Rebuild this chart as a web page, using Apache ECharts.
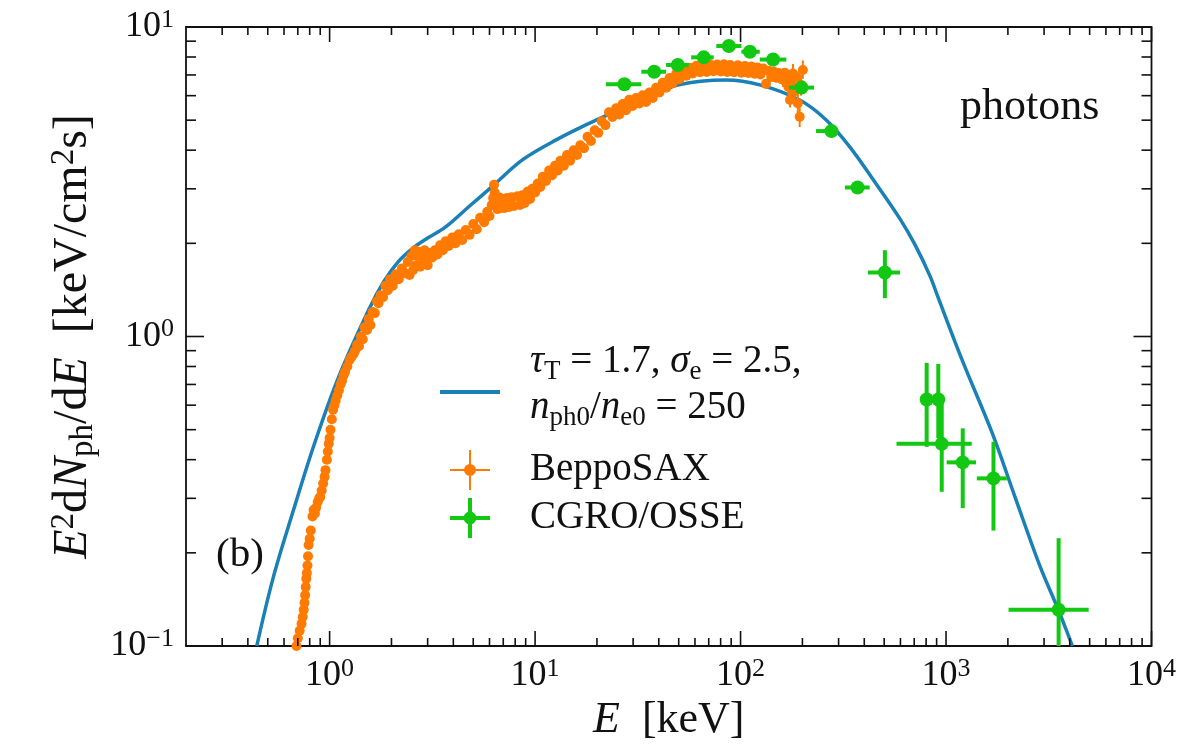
<!DOCTYPE html>
<html>
<head>
<meta charset="utf-8">
<script src="https://cdn.jsdelivr.net/npm/echarts@6/dist/echarts.min.js"></script>
<style>
  html, body { margin: 0; padding: 0; background: #ffffff; }
  #chart { width: 1179px; height: 750px; }
</style>
</head>
<body>
<div id="chart"></div>
<script>
// Spectral energy distribution E^2 dN/dE of the photons, log-log.

// Model curve (tau_T = 1.7, sigma_e = 2.5, n_ph0/n_e0 = 250)
const modelE = [0.442, 0.533, 0.667, 0.845, 1.107, 1.55, 1.83, 2.15, 2.52, 3.0, 3.67, 4.77, 6.17,
  8.67, 12.6, 19.8, 33.4, 50, 85, 124, 194, 262, 340, 459, 597, 706, 835, 914, 1197, 1677, 2148,
  2875, 3518, 4120];
const modelF = [0.10, 0.1675, 0.275, 0.452, 0.741, 1.22, 1.50, 1.74, 1.92, 2.08, 2.26, 2.63, 3.05,
  3.72, 4.31, 5.0, 5.81, 6.5, 6.74, 6.5, 5.81, 5.0, 4.1, 3.1, 2.4, 1.98, 1.57, 1.34, 0.84, 0.488,
  0.308, 0.18, 0.131, 0.1];

// BeppoSAX spectrum (keV, keV/cm^2 s)
const saxE = [0.69, 0.70, 0.715, 0.73, 0.74, 0.748, 0.755, 0.76, 0.765, 0.77, 0.775, 0.78, 0.785,
  0.79, 0.80, 0.81, 0.825, 0.836, 0.848, 0.86, 0.875, 0.89, 0.90, 0.915, 0.93, 0.945, 0.955, 0.97,
  0.98, 0.99, 1.0, 1.01, 1.025, 1.04, 1.055, 1.07, 1.09, 1.11, 1.13, 1.15, 1.17, 1.19, 1.22, 1.25,
  1.28, 1.31,
  1.33, 1.36, 1.39, 1.42, 1.45, 1.48, 1.52, 1.55, 1.58, 1.62, 1.66, 1.70, 1.73, 1.77, 1.82, 1.87,
  1.92, 1.97, 2.03, 2.1, 2.17, 2.25, 2.33, 2.4, 2.45, 2.5, 2.55, 2.6, 2.64, 2.68, 2.72, 2.76, 2.8,
  2.85, 2.9, 2.95, 3.0, 3.08, 3.16, 3.25, 3.35, 3.45, 3.56, 3.67, 3.8, 3.95, 4.1, 4.25, 4.42, 4.6,
  4.8, 5.0, 5.2, 5.4, 5.65, 5.85, 6.0, 6.15, 6.25, 6.31, 6.36, 6.45, 6.55, 6.67, 6.8, 6.95, 7.1,
  7.3, 7.47, 7.7, 7.9, 8.2, 8.45, 8.67, 8.9, 9.2, 9.45, 9.7, 10.0, 10.3, 10.6, 10.9, 11.3, 11.7,
  12.1, 12.5, 12.9, 13.3, 13.8, 14.3, 14.8, 15.4, 16.0, 16.6, 17.3, 18.0, 18.7, 19.5, 20.3, 21.1,
  22.0, 22.9, 23.8, 24.8, 25.7, 26.7, 27.7, 28.7, 29.8, 31.0, 32.2, 33.4, 34.7, 36.0, 37.4, 38.8,
  40.3, 41.8, 43.5, 45.1, 46.8, 48.6, 50.5, 52.5, 54.5, 56.5, 58.5, 61, 63.5, 66, 68.5, 71, 74,
  77, 80, 83, 86, 89, 93, 97, 101, 105, 109, 113, 117, 121, 125, 129, 133, 137, 141, 145, 149,
  153, 157, 161, 164, 167, 171, 174, 177, 180, 184, 187, 190, 194, 197, 201];
const saxF = [0.100, 0.106, 0.112, 0.118, 0.124, 0.131, 0.138, 0.146, 0.155, 0.165, 0.172, 0.182,
  0.195, 0.212, 0.222, 0.236, 0.262, 0.275, 0.268, 0.280, 0.292, 0.300, 0.303, 0.318, 0.335, 0.352,
  0.370, 0.40, 0.425, 0.45, 0.47, 0.50, 0.54, 0.58, 0.60, 0.62, 0.645, 0.67, 0.70, 0.72, 0.75,
  0.77, 0.80, 0.84, 0.86, 0.88,
  0.90, 0.94, 0.93, 1.00, 0.98, 1.07, 1.05, 1.14, 1.09, 1.20, 1.19, 1.30, 1.28, 1.36, 1.34, 1.46,
  1.41, 1.53, 1.46, 1.59, 1.53, 1.66, 1.60, 1.74, 1.58, 1.82, 1.64, 1.90, 1.70, 1.82, 1.88, 1.68,
  1.84, 1.72, 1.90, 1.76, 1.70, 1.86, 1.80, 1.90, 1.84, 1.97, 1.90, 2.03, 1.96, 2.09, 2.00, 2.14,
  2.05, 2.21, 2.13, 2.31, 2.22, 2.42, 2.34, 2.53, 2.45, 2.66, 2.80, 3.09, 2.92, 2.76, 2.58, 2.82,
  2.60, 2.78, 2.60, 2.80, 2.62, 2.82, 2.64, 2.84, 2.66, 2.86, 2.70, 2.94, 2.78, 3.00, 2.92, 3.12,
  3.04, 3.28, 3.18, 3.44, 3.32, 3.56, 3.44, 3.70, 3.56, 3.86, 3.70, 4.00, 3.86, 4.15, 4.06, 4.42,
  4.28, 4.64, 4.55, 4.96, 4.82, 5.30, 5.12, 5.46, 5.22, 5.64, 5.38, 5.82, 5.56, 5.90, 5.66, 6.02,
  5.72, 6.14, 5.90, 6.36, 6.14, 6.60, 6.36, 6.84, 6.58, 7.06, 6.78, 7.24, 6.96, 7.38, 7.08, 7.50,
  7.14, 7.56, 7.16, 7.58, 7.20, 7.56, 7.18, 7.58, 7.16, 7.54, 7.14, 7.52, 7.12, 7.48, 7.10, 7.46,
  7.06, 7.40, 7.02, 7.34, 6.55, 7.22, 6.90, 7.18, 6.86, 7.10, 6.80, 6.74, 7.12, 6.85, 6.4, 5.81,
  6.6, 7.08, 6.2, 6.9, 5.67, 5.13, 6.5, 7.26];

// BeppoSAX points whose error bars stand out above 150 keV
const saxBarE  = [161, 171, 174, 180, 184, 190, 194, 197, 201];
const saxBarLo = [6.4, 6.0, 5.5, 6.7, 5.8, 5.2, 4.75, 6.0, 6.8];
const saxBarHi = [7.1, 6.8, 6.9, 7.6, 6.6, 6.3, 5.6, 7.0, 7.8];

// CGRO/OSSE spectrum with energy bins and flux errors
const osseE   = [27.2, 38.0, 49.5, 66.2, 87.7, 111, 144, 198, 277, 371, 504, 805, 917, 953, 1206, 1702, 3532];
const osseF   = [6.53, 7.17, 7.54, 7.98, 8.68, 8.32, 7.85, 6.37, 4.61, 3.03, 1.61, 0.626, 0.626, 0.45, 0.392, 0.348, 0.131];
const osseElo = [22.1, 32.9, 43.4, 57.5, 76.2, 101, 124, 172, 233, 322, 417, 770, 885, 574, 1007, 1412, 2015];
const osseEhi = [32.9, 43.4, 56.0, 74.0, 101, 124, 167, 228, 298, 425, 597, 840, 950, 1334, 1400, 1977, 4947];
const osseFlo = [6.30, 6.95, 7.30, 7.70, 8.40, 8.05, 7.60, 6.10, 4.45, 2.90, 1.33, 0.44, 0.47, 0.315, 0.279, 0.236, 0.1];
const osseFhi = [6.78, 7.40, 7.80, 8.25, 8.95, 8.60, 8.10, 6.65, 4.78, 3.17, 1.90, 0.822, 0.815, 0.624, 0.505, 0.457, 0.223];

// Axis ranges and tick positions
const X_MIN = 0.2, X_MAX = 10000, Y_MIN = 0.1, Y_MAX = 10;
const xDecades = [0.1, 1, 10, 100, 1000];
const yDecades = [0.1, 1];
const minorSteps = [2, 3, 4, 5, 6, 7, 8, 9];

const FONT = '"Liberation Serif", "Times New Roman", serif';
const INK = '#111111';
const BLUE = '#1a80b6';
const ORANGE = '#ff7a00';
const GREEN = '#12c812';

function ticksFor(decades, lo, hi) {
  const out = [];
  decades.forEach(d => {
    if (d > lo && d < hi) out.push({ v: d, major: 1 });
    minorSteps.forEach(m => {
      const v = m * d;
      if (v > lo * 1.0001 && v < hi * 0.9999) out.push({ v: v, major: 0 });
    });
  });
  return out;
}
const xTicks = ticksFor(xDecades, X_MIN, X_MAX).concat([{ v: 10000, major: 1 }]);
const yTicks = ticksFor(yDecades, Y_MIN, Y_MAX);

function powLabel(value) {
  const e = Math.log10(value);
  const r = Math.round(e);
  if (Math.abs(e - r) > 1e-6) return '';
  const exp = r < 0 ? '\u2212' + (-r) : String(r);
  return '{b|10}{s|' + exp + '}';
}

const labelRich = {
  b: { fontFamily: FONT, fontSize: 36, lineHeight: 40, color: INK },
  s: { fontFamily: FONT, fontSize: 26, lineHeight: 18, verticalAlign: 'top', color: INK }
};

function tickRenderer(dir) {
  return function (params, api) {
    const cs = params.coordSys;
    const isMajor = api.value(2) === 1;
    const st = { stroke: INK, lineWidth: 1.6 };
    if (dir === 'x') {
      const len = isMajor ? 15 : 8;
      const px = api.coord([api.value(0), 1])[0];
      const b = cs.y + cs.height, t = cs.y;
      return { type: 'group', children: [
        { type: 'line', shape: { x1: px, y1: b, x2: px, y2: b - len }, style: st },
        { type: 'line', shape: { x1: px, y1: t, x2: px, y2: t + len }, style: st }
      ] };
    }
    const len = isMajor ? 18 : 10;
    const py = api.coord([1, api.value(1)])[1];
    const l = cs.x, r = cs.x + cs.width;
    return { type: 'group', children: [
      { type: 'line', shape: { x1: l, y1: py, x2: l + len, y2: py }, style: st },
      { type: 'line', shape: { x1: r, y1: py, x2: r - len, y2: py }, style: st }
    ] };
  };
}

function osseRender(params, api) {
  const e = api.value(0), f = api.value(1);
  const c = api.coord([e, f]);
  const xl = api.coord([api.value(2), f]);
  const xh = api.coord([api.value(3), f]);
  const yl = api.coord([e, api.value(4)]);
  const yh = api.coord([e, api.value(5)]);
  const color = api.visual('color');
  return { type: 'group', children: [
    { type: 'line', shape: { x1: xl[0], y1: c[1], x2: xh[0], y2: c[1] }, style: { stroke: color, lineWidth: 4 } },
    { type: 'line', shape: { x1: c[0], y1: yl[1], x2: c[0], y2: yh[1] }, style: { stroke: color, lineWidth: 4 } },
    { type: 'circle', shape: { cx: c[0], cy: c[1], r: 7 }, style: { fill: color } }
  ] };
}

function saxBarRender(params, api) {
  const e = api.value(0);
  const lo = api.coord([e, api.value(1)]);
  const hi = api.coord([e, api.value(2)]);
  return { type: 'line', shape: { x1: lo[0], y1: lo[1], x2: hi[0], y2: hi[1] },
    style: { stroke: ORANGE, lineWidth: 2 } };
}

const crossThin = 'path://M0,19H40V21H0Z M19,0H21V40H19Z M14,20A6,6 0 1,1 26,20A6,6 0 1,1 14,20Z';
const crossThick = 'path://M0,18H40V22H0Z M18,0H22V40H18Z M13.5,20A6.5,6.5 0 1,1 26.5,20A6.5,6.5 0 1,1 13.5,20Z';
const modelLegendText = '{i|\u03c4}{u|T} = 1.7, {i|\u03c3}{u|e} = 2.5,\n{i|n}{u|ph0}/{i|n}{u|e0} = 250';

const chart = echarts.init(document.getElementById('chart'), null, { renderer: 'canvas' });

const option = {
  animation: false,
  backgroundColor: '#ffffff',
  title: [
    { text: 'photons', left: 960, top: 85, padding: 0,
      textStyle: { fontFamily: FONT, fontSize: 44, fontWeight: 'normal', color: INK } },
    { text: '(b)', left: 216, top: 535, padding: 0,
      textStyle: { fontFamily: FONT, fontSize: 41, fontWeight: 'normal', color: INK } }
  ],
  grid: { left: 186, right: 27, top: 27, bottom: 104, show: true,
    borderColor: INK, borderWidth: 1.8, backgroundColor: 'transparent' },
  legend: {
    orient: 'vertical', left: 440, top: 339, padding: 0, itemGap: 2,
    itemWidth: 60, itemHeight: 40, symbolKeepAspect: true, selectedMode: false,
    itemStyle: { borderWidth: 0 },
    formatter: name => (name === 'model' ? modelLegendText : name),
    textStyle: {
      fontFamily: FONT, fontSize: 39, lineHeight: 46, color: INK, padding: [0, 0, 0, 25],
      rich: {
        i: { fontFamily: FONT, fontSize: 39, lineHeight: 46, fontStyle: 'italic', color: INK },
        u: { fontFamily: FONT, fontSize: 27, lineHeight: 20, verticalAlign: 'bottom', color: INK }
      }
    },
    data: [
      { name: 'model', icon: 'path://M0,0H60V4H0Z', textStyle: { padding: [0, 0, 14, 25] } },
      { name: 'BeppoSAX', icon: crossThin },
      { name: 'CGRO/OSSE', icon: crossThick }
    ]
  },
  xAxis: {
    type: 'log', logBase: 10, min: X_MIN, max: X_MAX, splitNumber: 5,
    axisLine: { show: false }, axisTick: { show: false }, splitLine: { show: false },
    axisLabel: { formatter: powLabel, rich: labelRich, margin: 10, showMinLabel: true, showMaxLabel: true,
      fontFamily: FONT, fontSize: 36, color: INK },
    name: '{i|E}  [keV]', nameLocation: 'middle', nameGap: 50,
    nameTextStyle: { fontFamily: FONT, fontSize: 44, color: INK,
      rich: { i: { fontFamily: FONT, fontSize: 44, fontStyle: 'italic', color: INK } } }
  },
  yAxis: {
    type: 'log', logBase: 10, min: Y_MIN, max: Y_MAX, splitNumber: 2,
    axisLine: { show: false }, axisTick: { show: false }, splitLine: { show: false },
    axisLabel: { formatter: powLabel, rich: labelRich, margin: 12, showMinLabel: true, showMaxLabel: true,
      fontFamily: FONT, fontSize: 36, color: INK },
    name: '{i|E}{p|2}d{i|N}{b|ph}/d{i|E}  [keV/cm{p|2}s]', nameLocation: 'middle', nameRotate: 90, nameGap: 84,
    nameTextStyle: { fontFamily: FONT, fontSize: 48, lineHeight: 52, color: INK,
      rich: {
        i: { fontFamily: FONT, fontSize: 48, lineHeight: 52, fontStyle: 'italic', color: INK },
        p: { fontFamily: FONT, fontSize: 33, lineHeight: 26, verticalAlign: 'top', color: INK },
        b: { fontFamily: FONT, fontSize: 33, lineHeight: 22, verticalAlign: 'bottom', color: INK }
      } }
  },
  series: [
    {
      name: 'model', type: 'line', smooth: 0.35, symbol: 'none', showSymbol: false,
      data: modelE.map((e, i) => [e, modelF[i]]),
      lineStyle: { color: BLUE, width: 3.5 }, itemStyle: { color: BLUE }, z: 2
    },
    {
      name: 'BeppoSAX bars', type: 'custom', renderItem: saxBarRender,
      data: saxBarE.map((e, i) => [e, saxBarLo[i], saxBarHi[i]]),
      encode: { x: 0, y: [1, 2] }, itemStyle: { color: ORANGE }, z: 3
    },
    {
      name: 'BeppoSAX', type: 'scatter', symbol: 'circle', symbolSize: 10,
      data: saxE.map((e, i) => [e, saxF[i]]),
      itemStyle: { color: ORANGE, opacity: 1 }, z: 3
    },
    {
      name: 'CGRO/OSSE', type: 'custom', renderItem: osseRender, clip: true,
      data: osseE.map((e, i) => [e, osseF[i], osseElo[i], osseEhi[i], osseFlo[i], osseFhi[i]]),
      encode: { x: [0, 2, 3], y: [1, 4, 5] }, itemStyle: { color: GREEN }, z: 4
    },
    {
      name: 'x ticks', type: 'custom', renderItem: tickRenderer('x'), silent: true, clip: false,
      data: xTicks.map(t => [t.v, 1, t.major]), encode: { x: 0, y: 1 }, z: 10
    },
    {
      name: 'y ticks', type: 'custom', renderItem: tickRenderer('y'), silent: true, clip: false,
      data: yTicks.map(t => [1, t.v, t.major]), encode: { x: 0, y: 1 }, z: 10
    }
  ]
};

chart.setOption(option);
</script>
</body>
</html>
